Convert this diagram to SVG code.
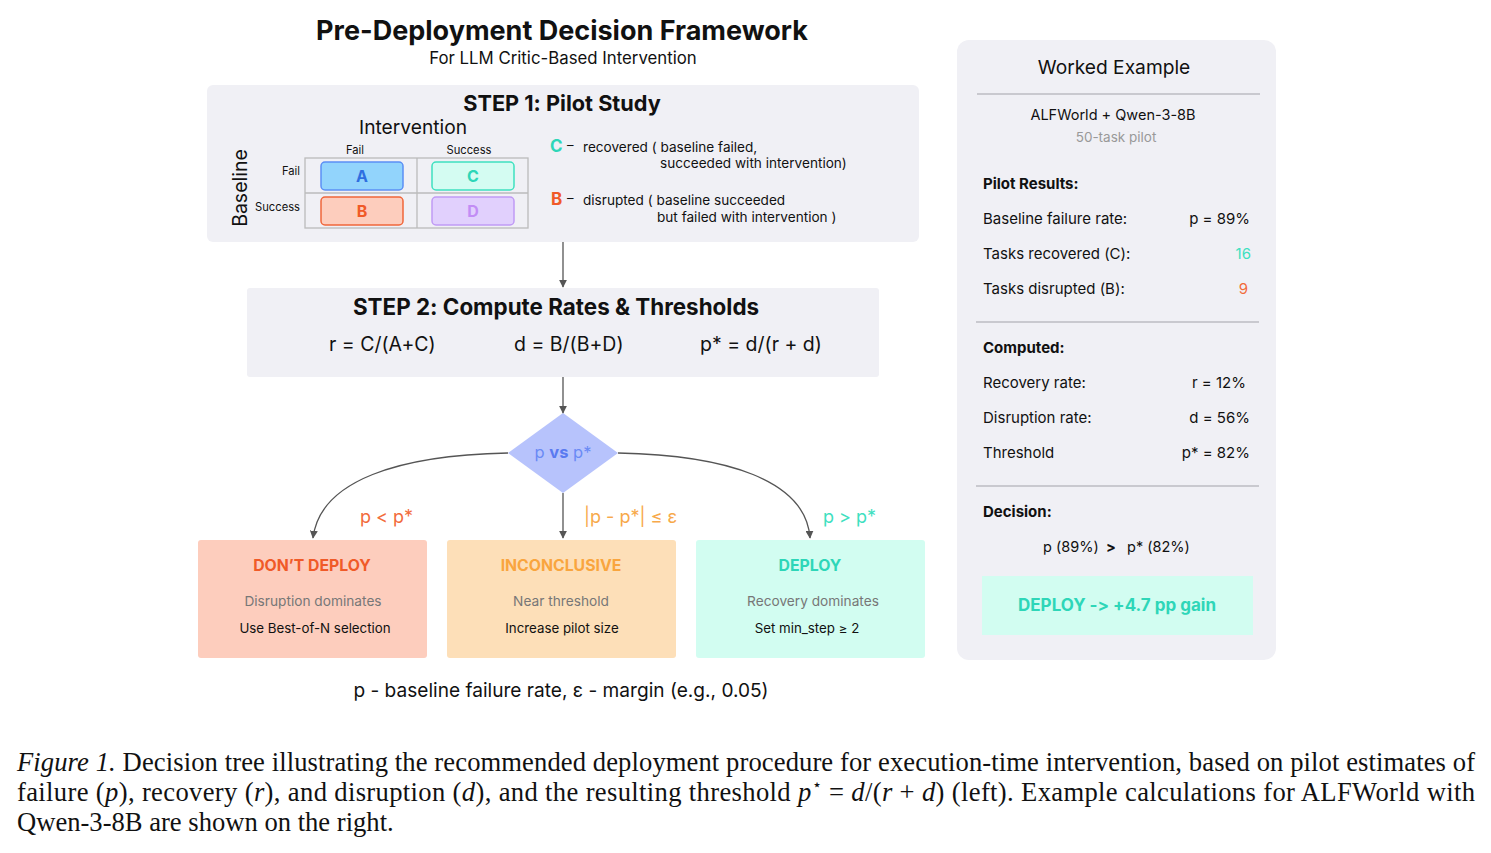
<svg xmlns="http://www.w3.org/2000/svg" width="1491" height="853" viewBox="0 0 1491 853">
<style>
text{font-family:Inter,"Open Sans",sans-serif;fill:#111;font-feature-settings:"calt" 0,"liga" 0;font-variant-ligatures:none}
.b{font-weight:700}
.panel{fill:#f0f0f5}
.sep{stroke:#bdbdc2;stroke-width:1.5}
.m{text-anchor:middle}
.e{text-anchor:end}
.conn{fill:none;stroke:#555;stroke-width:1.3}
.cap{font-family:"Liberation Serif",serif;font-size:26.6px}
.gray{fill:#777}
</style>
<defs>
<marker id="ah" viewBox="0 0 10 10" refX="9" refY="5" markerWidth="8" markerHeight="8" orient="auto" markerUnits="userSpaceOnUse"><path d="M0,0 L10,5 L0,10 z" fill="#555"/></marker>
</defs>
<rect width="1491" height="853" fill="#fff"/>
<g id="title">
<text x="562" y="40" class="b m" font-size="27">Pre-Deployment Decision Framework</text>
<text x="563" y="64" class="m" font-size="16.8">For LLM Critic-Based Intervention</text>
</g>
<g id="step1">
<rect x="207" y="85" width="712" height="157" rx="6" class="panel"/>
<text x="562" y="111" class="b m" font-size="21.7">STEP 1: Pilot Study</text>
<text x="413" y="134" class="m" font-size="19.2">Intervention</text>
<text x="355" y="154" class="m" font-size="11.2">Fail</text>
<text x="469" y="154" class="m" font-size="11.2">Success</text>
<text x="300" y="175" class="e" font-size="11.2">Fail</text>
<text x="300" y="211" class="e" font-size="11.2">Success</text>
<text transform="translate(247,188) rotate(-90)" class="m" font-size="19.5">Baseline</text>
<rect x="305" y="158" width="223" height="70" fill="none" stroke="#bbb" stroke-width="1.3"/>
<line x1="417" y1="158" x2="417" y2="228" stroke="#bbb" stroke-width="1.3"/>
<line x1="305" y1="193" x2="528" y2="193" stroke="#bbb" stroke-width="1.3"/>
<g id="cellA"><rect x="321" y="162" width="82" height="28" rx="4" fill="#92d4fc" stroke="#5b8ef5" stroke-width="1.5"/><text x="362" y="182" class="b m" font-size="16" style="fill:#2f6fe0">A</text></g>
<g id="cellC"><rect x="432" y="162" width="82" height="28" rx="4" fill="#d4fcf2" stroke="#3ee0c0" stroke-width="1.5"/><text x="473" y="182" class="b m" font-size="16" style="fill:#2ed6b8">C</text></g>
<g id="cellB"><rect x="321" y="197" width="82" height="28" rx="4" fill="#fdcdbd" stroke="#f0653a" stroke-width="1.5"/><text x="362" y="217" class="b m" font-size="16" style="fill:#f05a28">B</text></g>
<g id="cellD"><rect x="432" y="197" width="82" height="28" rx="4" fill="#e1d0fd" stroke="#c09af5" stroke-width="1.5"/><text x="473" y="217" class="b m" font-size="16" style="fill:#c28df5">D</text></g>
<text x="550" y="152" class="b" font-size="17" style="fill:#2ed6b8">C</text>
<text x="567" y="150" font-size="13">–</text>
<text x="583" y="152" font-size="13.6">recovered ( baseline failed,</text>
<text x="660" y="168" font-size="13.6">succeeded with intervention)</text>
<text x="551" y="205" class="b" font-size="17" style="fill:#f05a28">B</text>
<text x="567" y="203" font-size="13">–</text>
<text x="583" y="205" font-size="13.6">disrupted ( baseline succeeded</text>
<text x="657" y="222" font-size="13.6">but failed with intervention )</text>
</g>
<g id="step2">
<rect x="247" y="288" width="632" height="89" rx="3" class="panel"/>
<text x="556" y="315" class="b m" font-size="22.4">STEP 2: Compute Rates &amp; Thresholds</text>
<text x="329" y="351" font-size="19.5">r = C/(A+C)</text>
<text x="514" y="351" font-size="19.5">d = B/(B+D)</text>
<text x="700" y="351" font-size="19.5">p* = d/(r + d)</text>
</g>
<g id="decision">
<polygon points="508,453 563,413 618,453 563,493" fill="#b7c3fc"/>
<text x="563" y="458" class="m" font-size="16.5" style="fill:#6a8af5">p <tspan class="b" style="fill:#5a7af0">vs</tspan> p*</text>
</g>
<g id="connectors">
<line x1="563" y1="242" x2="563" y2="287" class="conn" marker-end="url(#ah)"/>
<line x1="563" y1="377" x2="563" y2="413" class="conn" marker-end="url(#ah)"/>
<path d="M508,453 C400,455 320,480 313,538" class="conn" marker-end="url(#ah)"/>
<line x1="563" y1="493" x2="563" y2="538" class="conn" marker-end="url(#ah)"/>
<path d="M618,453 C726,455 806,480 810,538" class="conn" marker-end="url(#ah)"/>
<text x="360" y="523" font-size="18" style="fill:#f26b3a">p &lt; p*</text>
<text x="584" y="523" font-size="18" style="fill:#f7a94a">|p - p*| ≤ ε</text>
<text x="823" y="523" font-size="18" style="fill:#3ee0c0">p &gt; p*</text>
</g>
<g id="dont">
<rect x="198" y="540" width="229" height="118" rx="3" fill="#fdcdbd"/>
<text x="312" y="571" class="b m" font-size="15.8" style="fill:#f05a28">DON’T DEPLOY</text>
<text x="313" y="606" class="m gray" font-size="13.7">Disruption dominates</text>
<text x="315" y="633" class="m" font-size="13.3">Use Best-of-N selection</text>
</g>
<g id="inconclusive">
<rect x="447" y="540" width="229" height="118" rx="3" fill="#fddfb8"/>
<text x="561" y="571" class="b m" font-size="15.8" style="fill:#f9a53e">INCONCLUSIVE</text>
<text x="561" y="606" class="m gray" font-size="13.7">Near threshold</text>
<text x="562" y="633" class="m" font-size="13.3">Increase pilot size</text>
</g>
<g id="deploy">
<rect x="696" y="540" width="229" height="118" rx="3" fill="#d2fdf1"/>
<text x="810" y="571" class="b m" font-size="15.8" style="fill:#2ed6b8">DEPLOY</text>
<text x="813" y="606" class="m gray" font-size="13.7">Recovery dominates</text>
<text x="807" y="633" class="m" font-size="13.3">Set min_step ≥ 2</text>
</g>
<g id="legend">
<text x="561" y="697" class="m" font-size="19.1">p - baseline failure rate, ε - margin (e.g., 0.05)</text>
</g>
<g id="worked">
<rect x="957" y="40" width="319" height="620" rx="12" class="panel"/>
<text x="1114" y="74" class="m" font-size="19.2">Worked Example</text>
<line x1="977" y1="94" x2="1260" y2="94" class="sep"/>
<text x="1113" y="120" class="m" font-size="14.5">ALFWorld + Qwen-3-8B</text>
<text x="1116" y="142" class="m" font-size="13.5" style="fill:#999">50-task pilot</text>
<text x="983" y="189" class="b" font-size="15">Pilot Results:</text>
<text x="983" y="224" font-size="15">Baseline failure rate:</text>
<text x="1250" y="224" class="e" font-size="15">p = 89%</text>
<text x="983" y="259" font-size="15">Tasks recovered (C):</text>
<text x="1251" y="259" class="e" font-size="15" style="fill:#3ee0c0">16</text>
<text x="983" y="294" font-size="15">Tasks disrupted (B):</text>
<text x="1248" y="294" class="e" font-size="15" style="fill:#f26b3a">9</text>
<line x1="976" y1="322" x2="1259" y2="322" class="sep"/>
<text x="983" y="353" class="b" font-size="15">Computed:</text>
<text x="983" y="388" font-size="15">Recovery rate:</text>
<text x="1246" y="388" class="e" font-size="15">r = 12%</text>
<text x="983" y="423" font-size="15">Disruption rate:</text>
<text x="1250" y="423" class="e" font-size="15">d = 56%</text>
<text x="983" y="458" font-size="15">Threshold</text>
<text x="1250" y="458" class="e" font-size="15">p* = 82%</text>
<line x1="976" y1="486" x2="1259" y2="486" class="sep"/>
<text x="983" y="517" class="b" font-size="15">Decision:</text>
<text x="1043" y="552" font-size="14.5">p (89%)</text>
<text x="1106" y="552" class="b" font-size="14.5">&gt;</text>
<text x="1127" y="552" font-size="14.5">p* (82%)</text>
<rect x="982" y="576" width="271" height="59" fill="#d2fdf1"/>
<text x="1117" y="611" class="b m" font-size="17" style="fill:#2ed6b8">DEPLOY  -&gt; +4.7 pp gain</text>
</g>
<g id="caption">
<text x="17" y="771" class="cap" textLength="1458" lengthAdjust="spacing"><tspan font-style="italic">Figure 1.</tspan> Decision tree illustrating the recommended deployment procedure for execution-time intervention, based on pilot estimates of</text>
<text x="17" y="801" class="cap" textLength="1458" lengthAdjust="spacing">failure (<tspan font-style="italic">p</tspan>), recovery (<tspan font-style="italic">r</tspan>), and disruption (<tspan font-style="italic">d</tspan>), and the resulting threshold <tspan font-style="italic">p</tspan><tspan font-size="16" dy="-11">⋆</tspan><tspan dy="11"> = </tspan><tspan font-style="italic">d</tspan>/(<tspan font-style="italic">r</tspan> + <tspan font-style="italic">d</tspan>) (left). Example calculations for ALFWorld with</text>
<text x="17" y="831" class="cap">Qwen-3-8B are shown on the right.</text>
</g>
</svg>
